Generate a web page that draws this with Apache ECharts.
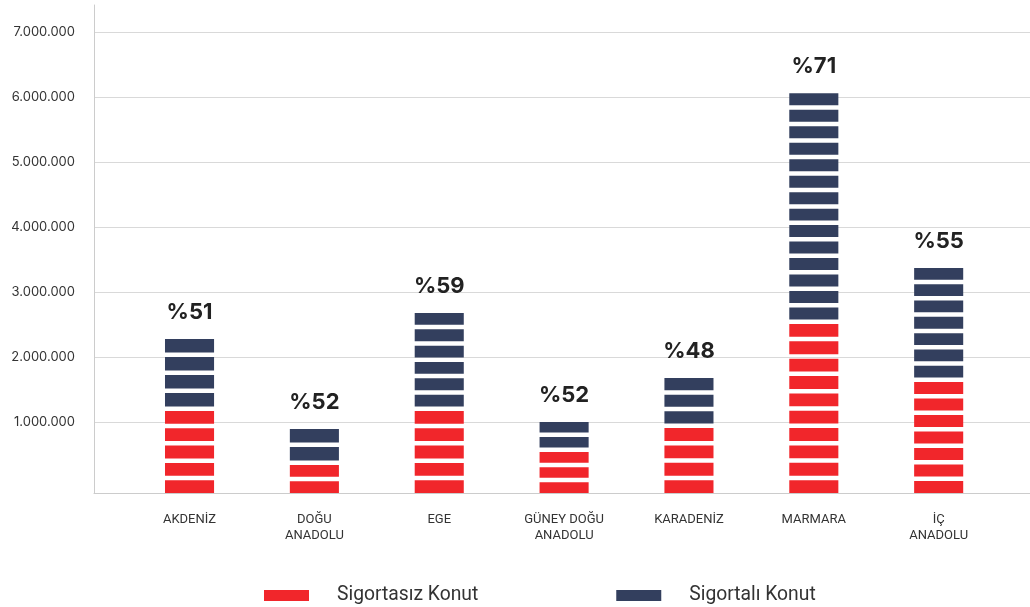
<!DOCTYPE html>
<html><head><meta charset="utf-8">
<script src="https://cdn.jsdelivr.net/npm/echarts@6/dist/echarts.min.js"></script>
<style>html,body{margin:0;padding:0;background:#fff}#c{width:1030px;height:607px}</style>
</head><body><div id="c"></div>
<script>
// ---- data ----
const categories = ['AKDENİZ', 'DOĞU\nANADOLU', 'EGE', 'GÜNEY DOĞU\nANADOLU', 'KARADENİZ', 'MARMARA', 'İÇ\nANADOLU'];
const sigortasiz = [1174000, 343000, 1174000, 543000, 912000, 2512000, 1620000];
const sigortali  = [1108000, 554000, 1508000, 462000, 770000, 3550000, 1754000];
const percentLabels = ['%51', '%52', '%59', '%52', '%48', '%71', '%55'];
const seriesNames = ['Sigortasız Konut', 'Sigortalı Konut'];
const yTickMin = 1000000, yTickMax = 7000000, yTickStep = 1000000;

const RED = '#F1262B', NAVY = '#333F5E';

function fmt(v) { return String(v).replace(/\B(?=(\d{3})+(?!\d))/g, '.'); }

function stripeRects(x, w, yBottom, yTop, gapBelow, color) {
  const G = 4.5, P = 16.2;
  const len = yBottom - yTop;
  if (len <= 0) return [];
  const n = Math.max(1, Math.round(len / P));
  const h = gapBelow ? len / n - G : (len - (n - 1) * G) / n;
  const out = [];
  for (let k = 0; k < n; k++) {
    out.push({ type: 'rect', shape: { x: x, y: yTop + k * (h + G), width: w, height: h }, style: { fill: color } });
  }
  return out;
}

const redData = categories.map((c, i) => [i, sigortasiz[i]]);
const navyData = categories.map((c, i) => [i, sigortasiz[i], sigortasiz[i] + sigortali[i]]);

const chart = echarts.init(document.getElementById('c'));
chart.setOption({
  animation: false,
  backgroundColor: '#fff',
  textStyle: { fontFamily: 'Roboto' },
  grid: [
    { left: 94, right: 0, top: 32.3, height: 390 },
    { left: 94, right: 0, top: 5, bottom: 114 },
    { left: 127.1, right: 28.9, top: 5, bottom: 114 }
  ],
  xAxis: [
    { gridIndex: 0, type: 'value', show: false },
    { gridIndex: 1, type: 'value', axisLine: { show: true, onZero: false, lineStyle: { color: '#cccccc' } }, axisTick: { show: false }, axisLabel: { show: false }, splitLine: { show: false } },
    { gridIndex: 2, type: 'category', data: categories, axisLine: { show: false }, axisTick: { show: false },
      axisLabel: { color: '#333', fontSize: 13, lineHeight: 16, margin: 19, fontFamily: 'Roboto' } }
  ],
  yAxis: [
    { gridIndex: 0, type: 'value', min: yTickMin, max: yTickMax, interval: yTickStep,
      axisLine: { show: false }, axisTick: { show: false },
      axisLabel: { color: '#333', fontSize: 13, margin: 19, formatter: fmt, fontFamily: 'Inter' },
      splitLine: { show: true, lineStyle: { color: '#d9d9d9', width: 1 } } },
    { gridIndex: 1, type: 'value', min: 0, max: 1, axisLine: { show: true, onZero: false, lineStyle: { color: '#cccccc' } },
      axisTick: { show: false }, axisLabel: { show: false }, splitLine: { show: false } },
    { gridIndex: 2, type: 'value', min: -88000, max: 7420000, show: false, splitLine: { show: false } }
  ],
  legend: {
    data: seriesNames, icon: 'rect', itemWidth: 45, itemHeight: 11, itemGap: 138,
    left: 259, top: 581,
    textStyle: { fontSize: 19.3, color: '#333', fontFamily: 'Roboto', padding: [0, 0, 0, 23] }
  },
  series: [
    {
      name: seriesNames[0], type: 'custom', xAxisIndex: 2, yAxisIndex: 2,
      itemStyle: { color: RED }, encode: { x: 0, y: 1 }, data: redData,
      renderItem: function (params, api) {
        const i = api.value(0);
        const top = api.coord([i, api.value(1)]);
        const bottom = params.coordSys.y + params.coordSys.height;
        const w = api.size([1, 0])[0] * 0.393;
        return { type: 'group', children: stripeRects(top[0] - w / 2, w, bottom, top[1], false, RED) };
      }
    },
    {
      name: seriesNames[1], type: 'custom', xAxisIndex: 2, yAxisIndex: 2,
      itemStyle: { color: NAVY }, encode: { x: 0, y: [1, 2] }, data: navyData,
      renderItem: function (params, api) {
        const i = api.value(0);
        const lo = api.coord([i, api.value(1)]);
        const hi = api.coord([i, api.value(2)]);
        const w = api.size([1, 0])[0] * 0.393;
        const children = stripeRects(hi[0] - w / 2, w, lo[1], hi[1], true, NAVY);
        children.push({ type: 'text', style: { text: percentLabels[i], x: hi[0], y: hi[1] - 26.5, align: 'center', verticalAlign: 'middle',
          fontSize: 22, fontWeight: 'bold', fontFamily: 'Inter', fill: '#222' } });
        return { type: 'group', children: children };
      }
    }
  ]
});
</script>
</body></html>
